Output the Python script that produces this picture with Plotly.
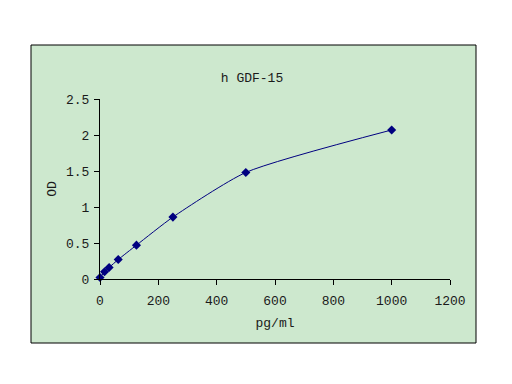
import plotly.graph_objects as go

conc = [0, 15.6, 31.25, 62.5, 125, 250, 500, 1000]
od = [0.02, 0.10, 0.16, 0.27, 0.47, 0.86, 1.48, 2.07]
title_text = "h GDF-15"
x_title = "pg/ml"
y_title = "OD"
x_ticks = [0, 200, 400, 600, 800, 1000, 1200]
y_ticks = [0, 0.5, 1, 1.5, 2, 2.5]

font_fam = "Liberation Mono, DejaVu Sans Mono, monospace"
txt = "#1a1a1a"

fig = go.Figure()
fig.add_trace(go.Scatter(
    x=conc, y=od, mode="lines+markers",
    line=dict(color="#000080", width=1, shape="spline", smoothing=0.6),
    marker=dict(symbol="diamond", size=7, color="#000080"),
    cliponaxis=False, showlegend=False,
))

W, H = 512, 384
OFF = 8  # page body margin
l, r, t, b = 100 - OFF, 70, 99 - OFF, 113
pw, ph = W - l - r, H - t - b

def px_x(x):
    return (x - OFF - l) / pw

def px_y(y):
    return (H - b - (y - OFF)) / ph

fig.add_shape(type="rect", xref="paper", yref="paper",
              x0=px_x(31), x1=px_x(476), y0=px_y(343), y1=px_y(45),
              fillcolor="#CDE8CE", line=dict(color="black", width=1),
              layer="below")

fig.update_layout(
    width=W, height=H,
    margin=dict(l=l, r=r, t=t, b=b),
    paper_bgcolor="white", plot_bgcolor="rgba(0,0,0,0)",
    font=dict(family=font_fam, size=13, color=txt),
    title=dict(text=title_text, x=(252 - OFF) / W, xanchor="center",
               y=1 - (77 - OFF) / H, yanchor="middle", font=dict(size=13, color=txt)),
)
fig.update_xaxes(
    range=[0, 1200], tickvals=x_ticks, ticktext=[str(v) for v in x_ticks],
    showgrid=False, zeroline=False, showline=True, linecolor="black", linewidth=1,
    ticks="outside", ticklen=5, tickcolor="black", ticklabelstandoff=4,
    title=dict(text=x_title, standoff=10, font=dict(size=13)),
)
fig.update_yaxes(
    range=[0, 2.5], tickvals=y_ticks, ticktext=["0", "0.5", "1", "1.5", "2", "2.5"],
    showgrid=False, zeroline=False, showline=True, linecolor="black", linewidth=1,
    ticks="outside", ticklen=5, tickcolor="black", ticklabelstandoff=2,
    title=dict(text=y_title, standoff=6, font=dict(size=13)),
)

fig.write_html("out.html")
